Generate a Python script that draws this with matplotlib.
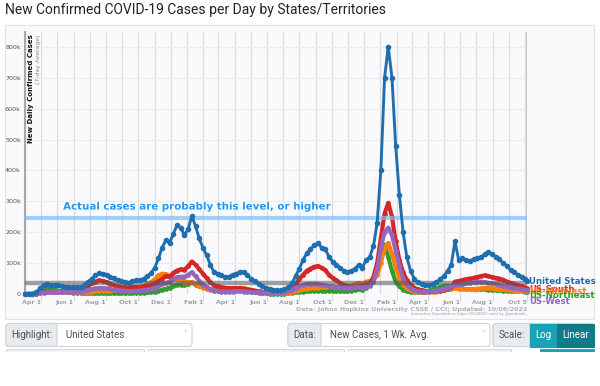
import numpy as np
import pandas as pd
import matplotlib
matplotlib.use("Agg")
import matplotlib.pyplot as plt
import matplotlib.dates as mdates
import matplotlib.patheffects as pe
from matplotlib.patches import Rectangle, FancyBboxPatch

# weekly dates (Sundays) from Mar 1 2020, plus the last update day
dates = list(pd.date_range("2020-03-01", "2022-10-02", freq="7D")) + [pd.Timestamp("2022-10-05")]

# 7-day average new cases, thousands
us = [0, 0.1, 0.6, 5, 18, 28, 31, 30, 30, 28, 25, 24, 22, 22, 22, 23, 29, 40, 50, 60,
      67, 66, 61, 55, 51, 44, 42, 40, 37, 42, 44, 45, 50, 58, 68, 85, 115, 150, 175, 165,
      195, 222, 215, 190,
      210, 252, 220, 180, 150, 125, 95, 70, 66, 60, 55, 56, 63, 66, 72, 70, 60, 50, 42, 33,
      26, 20, 16, 14, 12, 12, 15, 22, 35, 58, 82, 110, 132, 145, 158, 165, 150, 145, 120, 105,
      95, 85, 75, 72, 75, 82, 95, 85, 110, 120, 155, 230,
      400, 700, 800, 700, 480, 320, 200, 120, 75, 50, 38, 32, 29, 28, 31, 38, 48, 58, 75, 95,
      170, 110, 115, 110, 108, 112, 115, 120, 128, 135, 130, 120, 112, 100, 90, 78, 70, 62, 55, 47,
      42]
south = [0, 0, 0.2, 1.5, 5, 7, 7.5, 7, 7, 7, 7.5, 8, 8.5, 9, 10, 13, 18, 26, 34, 40,
         44, 42, 38, 33, 29, 25, 23, 22, 20, 22, 23, 23, 24, 26, 29, 34, 42, 50, 58, 55,
         68, 76, 80, 78,
         90, 105, 95, 80, 66, 52, 38, 28, 25, 22, 20, 19, 19, 19, 18, 17, 15, 13, 11, 9,
         7, 6, 5, 5, 5, 5, 6, 10, 18, 32, 48, 62, 75, 82, 88, 90, 85, 78, 62, 52,
         44, 36, 30, 26, 24, 25, 26, 25, 30, 34, 55, 100,
         180, 260, 295, 250, 170, 110, 70, 45, 30, 20, 15, 12, 10, 9, 9, 9, 11, 13, 17, 22,
         40, 42, 45, 48, 50, 52, 55, 58, 60, 58, 55, 52, 50, 46, 40, 36, 32, 28, 25, 21,
         19]
midwest = [0, 0, 0.1, 1, 4, 6, 6.5, 7, 8, 8, 7.5, 7, 6.5, 6, 5, 4.5, 5, 6, 7.5, 9,
           10, 10.5, 11, 11, 11.5, 12, 13, 14, 15, 17, 19, 22, 26, 31, 38, 48, 60, 66, 64, 58,
           52, 48, 44, 40,
           38, 38, 32, 26, 20, 16, 13, 11, 10, 10, 10, 12, 15, 18, 20, 19, 16, 13, 10, 8,
           6, 4.5, 3.5, 3, 2.5, 2.5, 3, 4, 6, 9, 12, 15, 17, 19, 20, 21, 22, 24, 25, 24,
           23, 22, 22, 24, 27, 32, 36, 32, 40, 42, 45, 60,
           100, 150, 165, 130, 85, 50, 30, 18, 12, 8, 6, 5, 5, 5, 6, 8, 10, 12, 15, 17,
           18, 17, 16, 15, 15, 16, 17, 18, 19, 19, 18, 17, 16, 15, 14, 13, 12, 11, 11, 10,
           10]
northeast = [0, 0, 0.3, 4, 12, 16, 18, 16, 14, 11, 9, 7, 5.5, 4.5, 3.5, 2.5, 2, 2, 2, 2,
             2.2, 2.3, 2.3, 2.2, 2.1, 2, 2, 2.2, 2.5, 3, 3.5, 4, 4.5, 5, 6, 7.5, 10, 14, 17, 20,
             26, 30, 30, 28,
             32, 38, 30, 25, 22, 19, 16, 14, 14, 14, 15, 16, 17, 17, 16, 14, 11, 8, 6, 4.5,
             3, 2, 1.5, 1.2, 1, 1, 1.2, 2, 3.5, 5, 6.5, 8, 9, 10, 10.5, 11, 11, 11, 10, 10,
             9.5, 9, 9, 9.5, 11, 13, 15, 14, 20, 28, 45, 90,
             140, 160, 120, 75, 40, 25, 14, 9, 6, 5, 5, 6, 8, 11, 15, 19, 23, 26, 27, 26,
             24, 21, 18, 16, 15, 15, 15, 15, 15, 14, 13, 12, 12, 11, 10, 9, 9, 9, 9, 8,
             8]
west = [0, 0, 0.2, 1.5, 3.5, 4.5, 5, 5, 5.5, 5.5, 5.5, 5.5, 6, 6.5, 7, 8, 10, 13, 16, 18,
        19, 19, 18, 16, 14, 12, 11, 10, 9.5, 9.5, 10, 11, 12, 14, 16, 20, 26, 32, 36, 40,
        48, 54, 56, 56,
        62, 70, 58, 42, 30, 22, 15, 11, 9, 8, 7.5, 7.5, 8, 8.5, 8.5, 8, 7, 6, 5.5, 5,
        4.5, 4, 4, 4, 4.5, 5, 6, 9, 14, 20, 25, 29, 32, 33, 33, 32, 30, 28, 26, 24,
        22, 21, 20, 20, 21, 22, 23, 21, 24, 27, 40, 80,
        150, 200, 215, 190, 140, 90, 50, 30, 18, 12, 9, 8, 8, 8, 9, 11, 14, 17, 21, 25,
        28, 30, 32, 34, 36, 38, 40, 40, 38, 36, 34, 32, 30, 27, 24, 21, 19, 17, 15, 13,
        12]

reference_level = 245   # "actual cases" line, thousands
grey_level = 35

series = [("US-Northeast", northeast, "#2ca02c"),
          ("US-Midwest", midwest, "#ff7f0e"),
          ("US-South", south, "#d62728"),
          ("US-West", west, "#9467bd")]
us_color = "#1f6fb0"

W, H = 600, 386
fig = plt.figure(figsize=(W / 100, H / 100), dpi=100)
fig.patch.set_facecolor("white")

# page layer in pixel coordinates
bg = fig.add_axes([0, 0, 1, 1], zorder=0)
bg.set_xlim(0, W)
bg.set_ylim(H, 0)
bg.axis("off")

bg.text(5, 10, "New Confirmed COVID-19 Cases per Day by States/Territories",
        family="Roboto", fontsize=10, color="#222", va="center", ha="left")
bg.add_patch(Rectangle((5, 25), 589, 294, facecolor="#fafafc", edgecolor="#e3e3e6", lw=0.8))


def control(x0, x1, label, lx1, value=None):
    bg.add_patch(FancyBboxPatch((x0, 323.5), x1 - x0, 23, boxstyle="round,pad=0,rounding_size=3",
                                facecolor="white", edgecolor="#ced4da", lw=0.8))
    bg.add_patch(FancyBboxPatch((x0, 323.5), lx1 - x0, 23, boxstyle="round,pad=0,rounding_size=3",
                                facecolor="#e9ecef", edgecolor="#ced4da", lw=0.8))
    bg.text((x0 + lx1) / 2, 335, label, family="Roboto", fontsize=7, color="#495057",
            ha="center", va="center")
    if value is not None:
        bg.text(lx1 + 9, 335, value, family="Roboto", fontsize=7, color="#495057",
                ha="left", va="center")
        bg.text(x1 - 7, 334, "\u02c5", family="DejaVu Sans", fontsize=5, color="#999",
                ha="center", va="center")


control(6, 192, "Highlight:", 57, "United States")
control(288, 490, "Data:", 321, "New Cases, 1 Wk. Avg.")
control(493, 594, "Scale:", 530)
bg.add_patch(Rectangle((530, 323.5), 27, 23, facecolor="#17a2b8", edgecolor="#17a2b8", lw=0.8))
bg.add_patch(Rectangle((557, 323.5), 37, 23, facecolor="#117a8b", edgecolor="#117a8b", lw=0.8))
bg.text(543.5, 335, "Log", family="Roboto", fontsize=7, color="white", ha="center", va="center")
bg.text(575.5, 335, "Linear", family="Roboto", fontsize=7, color="white", ha="center", va="center")
# top edge of the next row of controls
for a, b in [(6, 144), (148, 344), (348, 511)]:
    bg.add_patch(Rectangle((a, 348.5), b - a, 4, facecolor="#f1f3f5", edgecolor="#ced4da", lw=0.6))
bg.add_patch(Rectangle((540, 348.5), 54, 4, facecolor="#17a2b8", edgecolor="#17a2b8", lw=0.6))
bg.add_patch(Rectangle((0, 352), W, 34, facecolor="white", edgecolor="none"))

bg.text(527, 309, "Data: Johns Hopkins University CSSE / CCI; Updated: 10/06/2022",
        family="DejaVu Sans", fontweight="bold", fontsize=4.6, color="#b0b0b8", ha="right", va="center")
bg.text(527, 314.5, "Interactive Visualization: https://91-DIVOC.com/ by @profwade_",
        family="DejaVu Sans", fontsize=2.6, color="#999", ha="right", va="center")

# main chart
ax = fig.add_axes([25 / W, 1 - 294 / H, (527 - 25) / W, (294 - 32) / H], zorder=1)
ax.set_facecolor("none")
x0, x1 = pd.Timestamp("2020-03-01"), pd.Timestamp("2022-10-05")
ax.set_xlim(x0, x1)
ax.set_ylim(0, 848000)

ax.xaxis.set_minor_locator(mdates.MonthLocator())
tick_dates = [pd.Timestamp(d) for d in
              ["2020-04-01", "2020-06-01", "2020-08-01", "2020-10-01", "2020-12-01",
               "2021-02-01", "2021-04-01", "2021-06-01", "2021-08-01", "2021-10-01",
               "2021-12-01", "2022-02-01", "2022-04-01", "2022-06-01", "2022-08-01",
               "2022-10-05"]]
tick_labels = [d.strftime("%b ") + str(d.day) for d in tick_dates]
ax.set_xticks(tick_dates)
ax.set_xticklabels(tick_labels, fontsize=4.6, color="#a0a0a8", fontweight="bold", ha="right")
ax.tick_params(axis="x", which="major", length=5, width=0.8, color="#d8d8d8", pad=-1)
ax.tick_params(axis="x", which="minor", length=0)
ax.grid(axis="x", which="both", color="#dcdcdf", lw=0.9)

yt = np.arange(0, 900000, 100000)
ax.set_yticks(yt)
ax.set_yticklabels(["0"] + [f"{v // 1000}k" for v in yt[1:]], fontsize=4.6, color="#555")
ax.tick_params(axis="y", length=0, pad=3)
ax.grid(axis="y", color="#ececef", lw=0.9)
ax.set_axisbelow(True)

for s in ["top", "bottom", "right"]:
    ax.spines[s].set_visible(False)
ax.spines["left"].set_color("#a8a8a8")
ax.spines["left"].set_linewidth(1.5)
ax.axvline(x1, color="#b8b8b8", lw=1.8, zorder=1)

for name, vals, col in series:
    ax.plot(dates, np.array(vals) * 1000, color=col, lw=3.0, marker="o", ms=2.4,
            solid_capstyle="round", clip_on=False, zorder=3)
ax.plot(dates, np.array(us) * 1000, color=us_color, lw=2.1, marker="o", ms=3.0,
        clip_on=False, zorder=5)

ax.axhline(grey_level * 1000, color="#555", alpha=0.55, lw=3.2, zorder=4)
ax.axhline(reference_level * 1000, color="#7fbdf5", alpha=0.7, lw=3.0, zorder=4)
ax.text(pd.Timestamp("2020-05-12"), reference_level * 1000 + 38000,
        "Actual cases are probably this level, or higher",
        family="DejaVu Sans", fontweight="bold", fontsize=7.4, color="#2196f3", va="center",
        zorder=6, path_effects=[pe.withSimplePatchShadow(offset=(0.6, -0.6), shadow_rgbFace="#888", alpha=0.5),
                                pe.withStroke(linewidth=1.6, foreground="white")])

# end labels
ax.text(1.004, 13 / 262, "United States", transform=ax.transAxes,
        family="DejaVu Sans", fontweight="bold", fontsize=6.2, color=us_color, va="center", ha="left")
end_offsets = {"US-South": 4 / 262, "US-Midwest": 3 / 262, "US-Northeast": -1 / 262, "US-West": -7 / 262}
for name, vals, col in [series[2], series[1], series[0], series[3]]:
    ax.text(1.004, end_offsets[name], name, transform=ax.transAxes, family="DejaVu Sans",
            fontweight="bold", fontsize=6.2, color=col, va="center", ha="left")

# y label
ax.text(0.012, 0.99, "New Daily Confirmed Cases", transform=ax.transAxes, rotation=90,
        family="DejaVu Sans", fontweight="bold", fontsize=5.0, color="#111", va="top", ha="center")
ax.text(0.027, 0.99, "(7-day Average)", transform=ax.transAxes, rotation=90,
        family="DejaVu Sans", fontsize=4.4, color="#888", va="top", ha="center")

fig.savefig("out.png", dpi=100)
